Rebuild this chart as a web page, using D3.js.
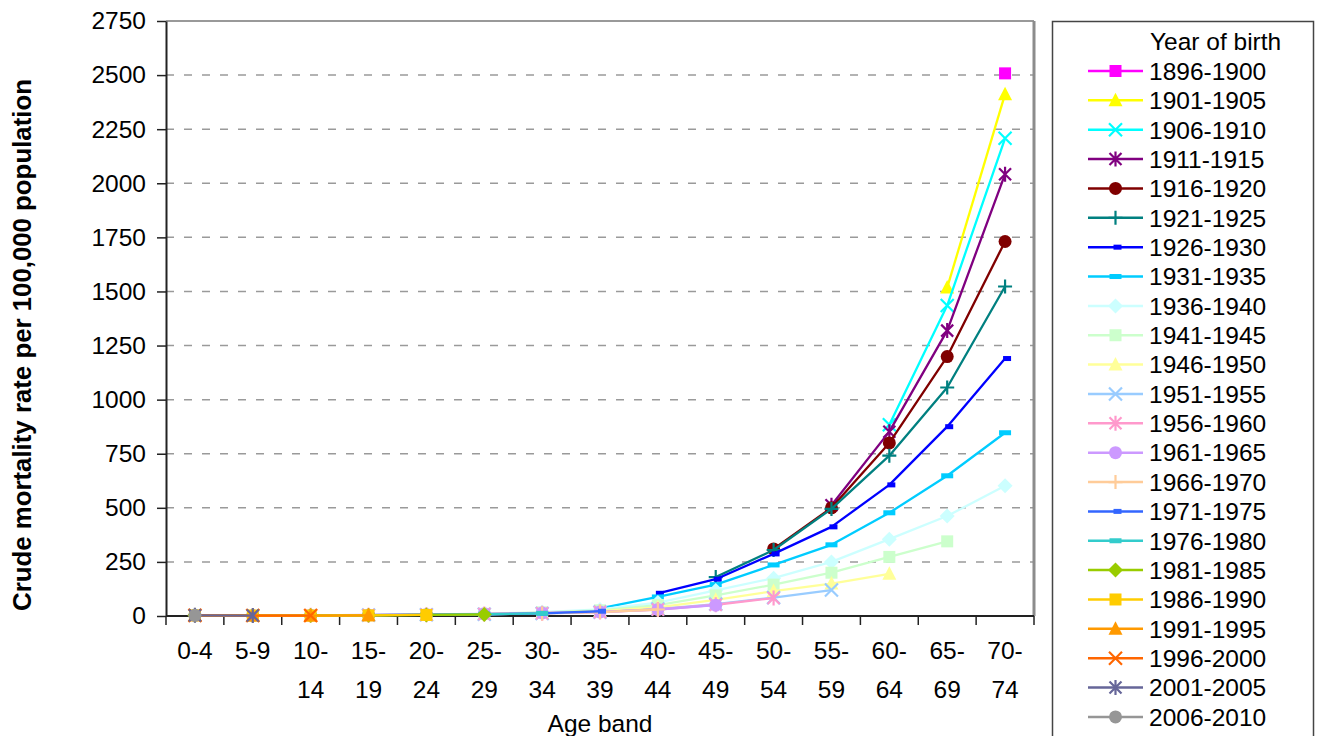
<!DOCTYPE html>
<html>
<head>
<meta charset="utf-8">
<script src="https://cdn.jsdelivr.net/npm/d3@7"></script>
<style>
  html, body { margin: 0; padding: 0; background: #fff; }
  svg { display: block; font-family: "Liberation Sans", Arial, sans-serif; }
</style>
</head>
<body>
<svg id="chart" width="1317" height="736"></svg>
<script>
// Age bands along the x axis and their two-line tick labels
const ageBands = ["0-4","5-9","10-14","15-19","20-24","25-29","30-34","35-39","40-44","45-49","50-54","55-59","60-64","65-69","70-74"];
const ageLabelLines = [["0-4"],["5-9"],["10-","14"],["15-","19"],["20-","24"],["25-","29"],["30-","34"],["35-","39"],["40-","44"],["45-","49"],["50-","54"],["55-","59"],["60-","64"],["65-","69"],["70-","74"]];

// Birth cohorts (legend order), line colours and marker shapes
const cohorts = ["1896-1900","1901-1905","1906-1910","1911-1915","1916-1920","1921-1925","1926-1930","1931-1935","1936-1940","1941-1945","1946-1950","1951-1955","1956-1960","1961-1965","1966-1970","1971-1975","1976-1980","1981-1985","1986-1990","1991-1995","1996-2000","2001-2005","2006-2010"];
const cohortColors = ["#FF00FF","#FFFF00","#00FFFF","#800080","#800000","#008080","#0000FF","#00CCFF","#CCFFFF","#CCFFCC","#FFFF99","#99CCFF","#FF99CC","#CC99FF","#FFCC99","#3366FF","#33CCCC","#99CC00","#FFCC00","#FF9900","#FF6600","#666699","#969696"];
const cohortMarkers = ["square","triangle","x","asterisk","circle","plus","shortdash","dash","diamond","square","triangle","x","asterisk","circle","plus","shortdash","dash","diamond","square","triangle","x","asterisk","circle"];

// First age band observed for each cohort (index into ageBands)
const cohortStart = [14,13,12,11,10,9,8,7,6,5,4,3,2,1,0,0,0,0,0,0,0,0,0];

// Crude mortality rate per 100,000 population, one row per cohort
const rates1896 = [2508];
const rates1901 = [1518, 2412];
const rates1906 = [884, 1435, 2208];
const rates1911 = [512, 852, 1319, 2042];
const rates1916 = [310, 500, 800, 1199, 1731];
const rates1921 = [180, 305, 495, 741, 1056, 1523];
const rates1926 = [105, 170, 287, 412, 606, 875, 1190];
const rates1931 = [35, 88, 145, 236, 329, 477, 648, 847];
const rates1936 = [18, 30, 62, 118, 175, 250, 355, 462, 602];
const rates1941 = [10, 17, 26, 50, 95, 145, 200, 273, 345];
const rates1946 = [6, 9, 14, 22, 40, 75, 115, 150, 195];
const rates1951 = [4, 6, 8, 12, 18, 32, 55, 85, 120];
const rates1956 = [3, 4, 6, 9, 13, 18, 30, 52, 83];
const rates1961 = [2, 3, 5, 7, 10, 14, 19, 30, 50];
const rates1966 = [4, 2, 3, 4, 6, 9, 12, 18, 30];
const rates1971 = [4, 2, 2, 4, 6, 8, 12, 22];
const rates1976 = [4, 2, 2, 4, 5, 8, 12];
const rates1981 = [3, 2, 2, 3, 5, 7];
const rates1986 = [3, 2, 2, 3, 5];
const rates1991 = [3, 2, 2, 3];
const rates1996 = [3, 2, 2];
const rates2001 = [3, 2];
const rates2006 = [3];
const cohortRates = [rates1896, rates1901, rates1906, rates1911, rates1916, rates1921, rates1926, rates1931, rates1936, rates1941, rates1946, rates1951, rates1956, rates1961, rates1966, rates1971, rates1976, rates1981, rates1986, rates1991, rates1996, rates2001, rates2006];

const yTicks = [0,250,500,750,1000,1250,1500,1750,2000,2250,2500,2750];

const svg = d3.select("#chart");
const plot = { left: 166, top: 21, right: 1034, bottom: 616 };

const x = d3.scaleBand().domain(ageBands).range([plot.left, plot.right]);
const y = d3.scaleLinear().domain([0, 2750]).range([plot.bottom, plot.top]);
const cx = a => x(a) + x.bandwidth() / 2;

// Horizontal dashed gridlines
svg.append("g").selectAll("line")
  .data(yTicks.filter(t => t > 0 && t < 2750))
  .join("line")
  .attr("x1", plot.left).attr("x2", plot.right)
  .attr("y1", d => y(d)).attr("y2", d => y(d))
  .attr("stroke", "#9a9a9a").attr("stroke-width", 1.5)
  .attr("stroke-dasharray", "8,10");

// Plot-area frame: top and right edges
svg.append("line").attr("x1", plot.left).attr("x2", plot.right)
  .attr("y1", y(2750)).attr("y2", y(2750))
  .attr("stroke", "#999").attr("stroke-width", 2);
svg.append("line").attr("x1", plot.right).attr("x2", plot.right)
  .attr("y1", y(2750)).attr("y2", plot.bottom)
  .attr("stroke", "#8c8c8c").attr("stroke-width", 3);

// Y axis
const yAxis = svg.append("g")
  .attr("transform", `translate(${plot.left},0)`)
  .call(d3.axisLeft(y).tickValues(yTicks).tickSize(9).tickSizeOuter(0).tickPadding(11).tickFormat(d3.format("d")));
yAxis.select(".domain").attr("stroke", "#222").attr("stroke-width", 2);
yAxis.selectAll(".tick line").attr("stroke", "#222").attr("stroke-width", 1.5);
yAxis.selectAll(".tick text").attr("font-size", 24.5).attr("fill", "#000")
  .attr("font-family", "Liberation Sans, Arial, sans-serif");

// X axis: baseline, boundary ticks and two-line labels
svg.append("line").attr("x1", plot.left).attr("x2", plot.right)
  .attr("y1", plot.bottom).attr("y2", plot.bottom)
  .attr("stroke", "#222").attr("stroke-width", 2);
const bounds = ageBands.map(a => x(a)).concat([x.range()[1]]);
svg.append("g").selectAll("line").data(bounds).join("line")
  .attr("x1", d => d).attr("x2", d => d)
  .attr("y1", plot.bottom).attr("y2", plot.bottom + 9)
  .attr("stroke", "#222").attr("stroke-width", 1.5);
const xl = svg.append("g").selectAll("text").data(ageBands).join("text")
  .attr("x", d => cx(d)).attr("y", 659)
  .attr("text-anchor", "middle").attr("font-size", 24.5).attr("fill", "#000");
xl.each(function(d, i) {
  const t = d3.select(this);
  ageLabelLines[i].forEach((ln, k) => {
    t.append("tspan").attr("x", cx(d)).attr("y", 659 + k * 39).text(ln);
  });
});

// Axis titles
svg.append("text").attr("x", cx("35-39")).attr("y", 732)
  .attr("text-anchor", "middle").attr("font-size", 24.5).attr("fill", "#000")
  .text("Age band");
svg.append("text")
  .attr("transform", `translate(31,345) rotate(-90)`)
  .attr("text-anchor", "middle").attr("font-size", 25.8).attr("font-weight", "bold").attr("fill", "#000")
  .text("Crude mortality rate per 100,000 population");

// Marker drawing
function drawMarker(g, type, color, px, py) {
  const m = g.append("g").attr("transform", `translate(${px},${py})`);
  switch (type) {
    case "square":
      m.append("rect").attr("x", -6).attr("y", -6).attr("width", 12).attr("height", 12).attr("fill", color);
      break;
    case "triangle":
      m.append("path").attr("d", "M0,-7.5L7,6L-7,6Z").attr("fill", color);
      break;
    case "x":
      m.append("path").attr("d", "M-6.5,-6.5L6.5,6.5M-6.5,6.5L6.5,-6.5").attr("stroke", color).attr("stroke-width", 2.2).attr("fill", "none");
      break;
    case "asterisk":
      m.append("path").attr("d", "M-6,-6L6,6M-6,6L6,-6M0,-7.5L0,7.5").attr("stroke", color).attr("stroke-width", 2.2).attr("fill", "none");
      break;
    case "circle":
      m.append("circle").attr("r", 6.5).attr("fill", color);
      break;
    case "plus":
      m.append("path").attr("d", "M-7,0L7,0M0,-7L0,7").attr("stroke", color).attr("stroke-width", 2.2).attr("fill", "none");
      break;
    case "shortdash":
      m.append("rect").attr("x", -2).attr("y", -2.5).attr("width", 8).attr("height", 5).attr("fill", color);
      break;
    case "dash":
      m.append("rect").attr("x", -6).attr("y", -2.5).attr("width", 12).attr("height", 5).attr("fill", color);
      break;
    case "diamond":
      m.append("path").attr("d", "M0,-7.5L7.5,0L0,7.5L-7.5,0Z").attr("fill", color);
      break;
  }
}

// Series: one line with markers per birth cohort
const line = d3.line().x(d => cx(d.age)).y(d => y(d.v));
const series = svg.append("g");
cohorts.forEach((c, i) => {
  const pts = cohortRates[i].map((v, k) => ({ age: ageBands[cohortStart[i] + k], v }));
  const g = series.append("g");
  if (pts.length > 1) {
    g.append("path").datum(pts).attr("d", line)
      .attr("fill", "none").attr("stroke", cohortColors[i]).attr("stroke-width", 2.3)
      .attr("stroke-linejoin", "round");
  }
  pts.forEach(p => drawMarker(g, cohortMarkers[i], cohortColors[i], cx(p.age), y(p.v)));
});

// Legend
const lg = svg.append("g");
lg.append("rect").attr("x", 1052.5).attr("y", 21.5).attr("width", 261).attr("height", 730)
  .attr("fill", "#fff").attr("stroke", "#444").attr("stroke-width", 1.5);
lg.append("text").attr("x", 1150).attr("y", 50).attr("font-size", 24.5).attr("fill", "#000").text("Year of birth");
cohorts.forEach((c, i) => {
  const ly = 71 + i * 29.36;
  lg.append("line").attr("x1", 1088).attr("x2", 1143).attr("y1", ly).attr("y2", ly)
    .attr("stroke", cohortColors[i]).attr("stroke-width", 2.5);
  drawMarker(lg, cohortMarkers[i], cohortColors[i], 1115.5, ly);
  lg.append("text").attr("x", 1149).attr("y", ly + 8.8).attr("font-size", 24.5).attr("fill", "#000").text(c);
});
</script>
</body>
</html>
